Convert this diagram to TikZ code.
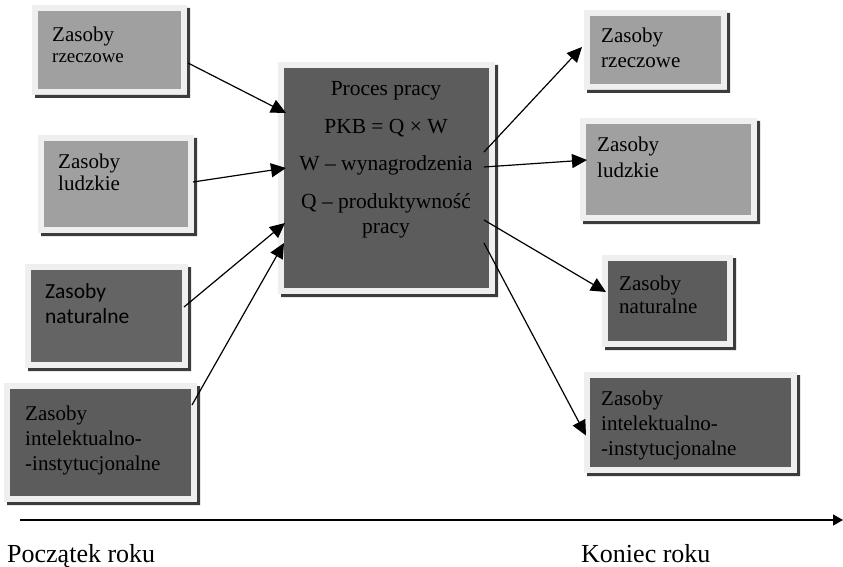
\documentclass[tikz,border=0pt]{standalone}
\usepackage{fontspec}
\setmainfont{Liberation Serif}
\newfontfamily\carlito{Carlito}
\usetikzlibrary{arrows.meta}
\definecolor{framec}{HTML}{EFEFEF}
\definecolor{shadowc}{HTML}{3C3C3C}
\definecolor{lightfill}{HTML}{A0A0A0}
\definecolor{darkfill}{HTML}{5C5C5C}
\definecolor{natfill}{HTML}{646464}
\newcommand\rshadow[1]{%
  \fill[shadowc] ([shift={(3,0)}]#1.north east) -- ([shift={(6,0)}]#1.north east)
    -- ([shift={(6,6)}]#1.south east) -- ([shift={(0,6)}]#1.south west)
    -- ([shift={(0,3)}]#1.south west) -- ([shift={(3,3)}]#1.south east) -- cycle;}
\begin{document}
\begin{tikzpicture}[x=1pt,y=-1pt,
  res/.style={draw=framec, line width=6pt, inner sep=0pt, outer sep=0pt},
  txt/.style={anchor=base west, inner sep=0pt, align=left, font=\fontsize{21}{25}\selectfont},
  conn/.style={line width=1.2pt, -{Triangle[length=15pt,width=14pt]}}]
\useasboundingbox (0,0) rectangle (843,567);
% left boxes
\node[res, fill=lightfill, minimum width=149, minimum height=84] (lr) at (109.5,50) {};
\node[res, fill=lightfill, minimum width=150, minimum height=92] (ll) at (116,184) {};
\node[res, fill=natfill, minimum width=157, minimum height=98] (ln) at (106.5,316) {};
\node[res, fill=darkfill, minimum width=187, minimum height=113] (li) at (100.5,442.5) {};
% main
\node[res, fill=darkfill, minimum width=211, minimum height=226] (m) at (386.5,178) {};
% right boxes
\node[res, fill=lightfill, minimum width=137, minimum height=74] (rr) at (655.5,50) {};
\node[res, fill=lightfill, minimum width=171, minimum height=97] (rl) at (668.5,169.5) {};
\node[res, fill=darkfill, minimum width=125, minimum height=86] (rn) at (667.5,301) {};
\node[res, fill=darkfill, minimum width=207, minimum height=95] (ri) at (690.5,422.5) {};
\foreach \b in {lr,ll,ln,li,m,rr,rl,rn,ri} {\rshadow{\b}}
% texts (anchor = baseline of last line)
\node[txt, font=\fontsize{21}{21}\selectfont] (tlr) at (52,63) {Zasoby\\{\fontsize{19}{21}\selectfont rzeczowe}};
\node[txt, font=\fontsize{21}{22}\selectfont] (tll) at (58,190) {Zasoby\\ludzkie};
\node[txt, font=\carlito\fontsize{21.5}{25}\selectfont] (tln) at (45,323) {Zasoby\\naturalne};
\node[txt] (tli) at (25,470) {Zasoby\\intelektualno-\\-instytucjonalne};
\node[txt] (trr) at (601,68) {Zasoby\\rzeczowe};
\node[txt] (trl) at (597,177) {Zasoby\\ludzkie};
\node[txt, font=\fontsize{21}{23}\selectfont] (trn) at (619,313) {Zasoby\\naturalne};
\node[txt] (tri) at (601,455) {Zasoby\\intelektualno-\\-instytucjonalne};
\node[txt, anchor=base, align=center, font=\fontsize{21.5}{25}\selectfont] (tm) at (386,233)
  {Proces pracy\\[12.5pt]PKB = Q × W\\[12.5pt]W – wynagrodzenia\\[12.5pt]Q – produktywność\\pracy};
% connectors
\draw[conn] ([shift={(4,13)}]lr.east) -- ([shift={(5,-65)}]m.west);
\draw[conn] ([shift={(2,-2)}]ll.east) -- ([shift={(5,-10)}]m.west);
\draw[conn] ([shift={(-1,-9)}]ln.east) -- ([shift={(4,45)}]m.west);
\draw[conn] ([shift={(-2,-37.5)}]li.east) -- ([shift={(3,65)}]m.west);
\draw[conn] ([shift={(-8,-26)}]m.east) -- ([shift={(-5,-3)}]rr.west);
\draw[conn] ([shift={(-8,-11)}]m.east) -- ([shift={(4,-9.5)}]rl.west);
\draw[conn] ([shift={(-8,42)}]m.east) -- ([shift={(1,-9)}]rn.west);
\draw[conn] ([shift={(-8,65)}]m.east) -- ([shift={(-1,13)}]ri.west);
% timeline
\coordinate (t0) at (20,520);
\coordinate (t1) at (843,520);
\draw[line width=1.2pt, -{Triangle[length=10pt,width=11pt]}] (t0) -- (t1);
\node[txt, font=\fontsize{26}{30}\selectfont] (start) at (7,562) {Początek roku};
\node[txt, font=\fontsize{26}{30}\selectfont] (end) at (581,562) {Koniec roku};
\end{tikzpicture}
\end{document}
